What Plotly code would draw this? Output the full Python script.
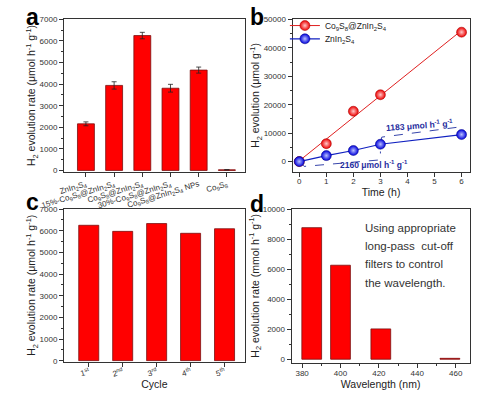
import numpy as np
import plotly.graph_objects as go

# ---------------- data ----------------
# Panel a
a_labels = ["ZnIn<sub>2</sub>S<sub>4</sub>",
            "15%-Co<sub>9</sub>S<sub>8</sub>@ZnIn<sub>2</sub>S<sub>4</sub>",
            "Co<sub>9</sub>S<sub>8</sub>@ZnIn<sub>2</sub>S<sub>4</sub>",
            "30%-Co<sub>9</sub>S<sub>8</sub>@ZnIn<sub>2</sub>S<sub>4</sub>",
            "Co<sub>9</sub>S<sub>8</sub>@ZnIn<sub>2</sub>S<sub>4</sub> NPs",
            "Co<sub>9</sub>S<sub>8</sub>"]
a_rates = [2160, 3940, 6250, 3810, 4650, 30]
a_err = [90, 170, 150, 180, 140, 0]

# Panel b
b_time = [0, 1, 2, 3, 6]
b_co9s8 = [0, 6300, 17700, 23500, 45500]
b_znin = [0, 2100, 3900, 6100, 9500]
b_low_x = [0, 0.18, 3, 3]
b_low_y = [100, -1700, 600, 3550]
b_up_x = [3, 3.05, 5.92, 6.03]
b_up_y = [6650, 8600, 12150, 10670]
b_low_label = "2160 μmol h<sup>-1</sup> g<sup>-1</sup>"
b_up_label = "1183 μmol h<sup>-1</sup> g<sup>-1</sup>"

# Panel c
c_cycles = ["1<sup>st</sup>", "2<sup>nd</sup>", "3<sup>rd</sup>", "4<sup>th</sup>", "5<sup>th</sup>"]
c_rates = [6250, 5970, 6330, 5880, 6090]

# Panel d
d_wl = [385, 400, 421, 457]
d_rates = [8760, 6260, 2020, 60]
d_note = ["Using appropriate", "long-pass  cut-off", "filters to control", "the wavelength."]

# ---------------- helpers ----------------
W, H = 483, 393
FONT = "Liberation Sans, Arial, sans-serif"
AX = "#333333"


def px(x):
    return x / W


def py(y):
    return 1 - y / H


def axis(**kw):
    d = dict(showline=True, linecolor=AX, linewidth=1, mirror=True,
             ticks="outside", ticklen=4, tickwidth=1, tickcolor=AX,
             tickfont=dict(size=8, color="#333", family=FONT),
             showgrid=False, zeroline=False, tickformat="d",
             title_font=dict(size=10.5, color="#222", family=FONT))
    d.update(kw)
    return d


YT = "H<sub>2</sub> evolution rate (μmol h<sup>-1</sup> g<sup>-1</sup>)"

fig = go.Figure()

# a
fig.add_trace(go.Bar(x=a_labels, y=a_rates, xaxis="x", yaxis="y",
                     marker=dict(color="#ff0000", line=dict(color="#7a1010", width=0.8)),
                     width=0.6,
                     error_y=dict(type="data", array=a_err, color="#222", thickness=0.8, width=2.5),
                     showlegend=False))

# b
slope, icpt = np.polyfit(b_time, b_co9s8, 1)
fx = [min(b_time), max(b_time)]
fy = [slope * v + icpt for v in fx]
fig.add_trace(go.Scatter(x=fx, y=fy, mode="lines", xaxis="x2", yaxis="y2",
                         line=dict(color="#e02020", width=1), showlegend=False, hoverinfo="skip"))
fig.add_trace(go.Scatter(x=b_low_x, y=b_low_y, mode="lines", xaxis="x2", yaxis="y2",
                         line=dict(color="#2030a0", width=0.9, dash="dash"), showlegend=False))
fig.add_trace(go.Scatter(x=b_up_x, y=b_up_y, mode="lines", xaxis="x2", yaxis="y2",
                         line=dict(color="#2030a0", width=0.9, dash="dash"), showlegend=False))
red_marker = dict(size=10, color="#ee0000", gradient=dict(type="radial", color="#ffc8c8"),
                  line=dict(color="#a00000", width=0.5))
blue_marker = dict(size=10, color="#0000dd", gradient=dict(type="radial", color="#b8c0ff"),
                   line=dict(color="#000080", width=0.5))
fig.add_trace(go.Scatter(x=b_time, y=b_co9s8, mode="markers", xaxis="x2", yaxis="y2",
                         marker=red_marker, showlegend=False))
fig.add_trace(go.Scatter(x=[None], y=[None], mode="lines+markers", xaxis="x2", yaxis="y2",
                         marker=red_marker, line=dict(color="#e02020", width=1), legend="legend",
                         name="Co<sub>9</sub>S<sub>8</sub>@ZnIn<sub>2</sub>S<sub>4</sub>"))
fig.add_trace(go.Scatter(x=b_time, y=b_znin, mode="lines+markers", xaxis="x2", yaxis="y2",
                         marker=blue_marker, line=dict(color="#1020c0", width=1.2), legend="legend2",
                         name="ZnIn<sub>2</sub>S<sub>4</sub>"))

# c
fig.add_trace(go.Bar(x=c_cycles, y=c_rates, xaxis="x3", yaxis="y3",
                     marker=dict(color="#ff0000", line=dict(color="#7a1010", width=0.8)),
                     width=0.59, showlegend=False))

# d
fig.add_trace(go.Bar(x=d_wl, y=d_rates, xaxis="x4", yaxis="y4",
                     marker=dict(color="#ff0000", line=dict(color="#7a1010", width=0.8)),
                     width=10.3, showlegend=False))

leg = dict(xanchor="left", yanchor="middle", bgcolor="rgba(0,0,0,0)",
           font=dict(size=8.5, color="#222", family=FONT), itemwidth=30, tracegroupgap=0)

fig.update_layout(
    width=W, height=H, margin=dict(l=0, r=0, t=0, b=0),
    paper_bgcolor="white", plot_bgcolor="white",
    font=dict(family=FONT, color="#222"),
    xaxis=axis(domain=[px(43), px(233)], anchor="y", range=[-0.78, 5.64],
               tickangle=-17, tickfont=dict(size=8, color="#333", family=FONT)),
    yaxis=axis(domain=[py(171), py(15.7)], anchor="x", range=[-50, 7000], dtick=1000,
               minor=dict(ticks="outside", ticklen=2, dtick=500, tickcolor=AX),
               title=dict(text=YT, standoff=0)),
    xaxis2=axis(domain=[px(283), px(469)], anchor="y2", range=[-0.25, 6.3], dtick=1,
                ticklabelstandoff=-2, title=dict(text="Time (h)", standoff=0)),
    yaxis2=axis(domain=[py(171), py(15.7)], anchor="x2", range=[-3500, 50000], dtick=10000,
                minor=dict(ticks="outside", ticklen=2, dtick=5000, tickcolor=AX),
                title=dict(text="H<sub>2</sub> evolution (μmol g<sup>-1</sup>)", standoff=1)),
    xaxis3=axis(domain=[px(43), px(233)], anchor="y3", range=[-0.73, 4.6], tickangle=-15,
                ticklabelstandoff=-2, title=dict(text="Cycle", standoff=0)),
    yaxis3=axis(domain=[py(365), py(209.3)], anchor="x3", range=[-40, 7000], dtick=1000,
                minor=dict(ticks="outside", ticklen=2, dtick=500, tickcolor=AX),
                title=dict(text=YT, standoff=0)),
    xaxis4=axis(domain=[px(282), px(469)], anchor="y4", range=[374.5, 467.3], dtick=20,
                minor=dict(ticks="outside", ticklen=2, dtick=10, tickcolor=AX),
                ticklabelstandoff=-1, title=dict(text="Wavelength (nm)", standoff=0)),
    yaxis4=axis(domain=[py(366), py(209.3)], anchor="x4", range=[-220, 10000], dtick=2000,
                minor=dict(ticks="outside", ticklen=2, dtick=1000, tickcolor=AX),
                title=dict(text="H<sub>2</sub> evolution rate (mmol h<sup>-1</sup> g<sup>-1</sup>)", standoff=1)),
    legend=dict(x=px(275), y=py(22), **leg),
    legend2=dict(x=px(275), y=py(35.5), **leg),
    bargap=0.4,
)

annos = []
for t, x, y in [("a", 1, -2), ("b", 236, -2), ("c", 1, 187), ("d", 236, 189)]:
    annos.append(dict(text="<b>%s</b>" % t, x=px(x), y=py(y), xref="paper", yref="paper",
                      xanchor="left", yanchor="top", showarrow=False,
                      font=dict(size=23, color="#000", family=FONT)))
annos.append(dict(text="<b>%s</b>" % b_low_label, x=2.75, y=-900, xref="x2", yref="y2",
                  showarrow=False, font=dict(size=8.5, color="#1f2d9e", family=FONT)))
annos.append(dict(text="<b>%s</b>" % b_up_label, x=4.45, y=12600, xref="x2", yref="y2",
                  showarrow=False, textangle=-4, font=dict(size=8.5, color="#1f2d9e", family=FONT)))
for i, line in enumerate(d_note):
    annos.append(dict(text=line, x=px(357), y=py(228.5 + 18.7 * i), xref="paper", yref="paper",
                      xanchor="left", yanchor="middle", showarrow=False,
                      font=dict(size=11.5, color="#333", family=FONT)))
fig.update_layout(annotations=annos)

fig.write_html("out.html", config={"displayModeBar": False},
               post_script="document.body.style.margin='0px';")
